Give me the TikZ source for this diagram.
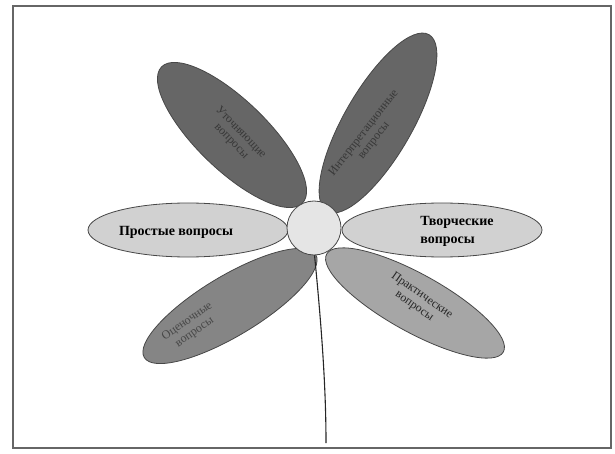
\documentclass[tikz,border=0pt]{standalone}
\usepackage{fontspec}
\setmainfont{Liberation Serif}
\usepackage{xcolor}
\usepackage{tikz}
\usetikzlibrary{shapes.geometric,positioning}
\definecolor{PetalDark}{gray}{0.40}
\definecolor{PetalMid}{gray}{0.52}
\definecolor{PetalGray}{gray}{0.65}
\definecolor{PetalLight}{gray}{0.82}
\definecolor{CoreLight}{gray}{0.90}
\definecolor{PetalEdge}{gray}{0.28}
\definecolor{FrameGray}{gray}{0.40}

\begin{document}
\begin{tikzpicture}[x=1pt,y=-1pt,font=\fontsize{14}{16}\selectfont,
  petal/.style={ellipse,draw=PetalEdge,line width=0.8pt,inner sep=0pt},
  petaltext/.style={align=center,inner sep=1pt,font=\fontsize{12}{13}\selectfont}]
  \useasboundingbox (0,0) rectangle (615,454);
  \draw[line width=1.4pt,draw=FrameGray] (13,6) rectangle (611,448);
  % upper petals
  \node[petal,fill=PetalDark,rotate=-44,minimum width=196pt,minimum height=70pt]
    (clarify) at (232,135) {};
  \node[petal,fill=PetalDark,rotate=60,minimum width=204pt,minimum height=68pt]
    (interpret) at (378,123) {};
  % lower petals
  \node[petal,fill=PetalMid,rotate=31,minimum width=200pt,minimum height=60pt]
    (evaluate) at (230,306) {};
  \node[petal,fill=PetalGray,rotate=-29,minimum width=202pt,minimum height=58pt]
    (practice) at (415,303) {};
  % side petals
  \node[petal,fill=PetalLight,minimum width=200pt,minimum height=54pt]
    (simple) at (188,230) {};
  \node[petal,fill=PetalLight,minimum width=200pt,minimum height=54pt]
    (creative) at (442,230) {};
  % stem and core
  \coordinate (stemend) at (326,443);
  \draw[line width=1.1pt,draw=black!85] (314,250)
    .. controls (322,330) and (326,390) .. (stemend);
  \node[circle,draw=PetalEdge,fill=CoreLight,line width=0.8pt,minimum size=54pt,
    inner sep=0pt] (core) at (314,228) {};
  % labels
  \node[petaltext,text=black!78,rotate=-46] (clarifylbl) at (236,137)
    {Уточняющие\\вопросы};
  \node[petaltext,text=black!78,rotate=52] (interpretlbl) at (369,137)
    {Интерпретационные\\вопросы};
  \node[petaltext,text=black!72,rotate=35] (evaluatelbl) at (191,327)
    {Оценочные\\вопросы};
  \node[petaltext,text=black!85,rotate=-35] (practicelbl) at (418,301)
    {Практические\\вопросы};
  \node[font=\fontsize{14}{16}\selectfont\bfseries] (simplelbl) at (176,232)
    {Простые вопросы};
  \node[font=\fontsize{14}{18}\selectfont\bfseries,align=left] (creativelbl)
    at (457,231) {Творческие\\вопросы};
\end{tikzpicture}
\end{document}
